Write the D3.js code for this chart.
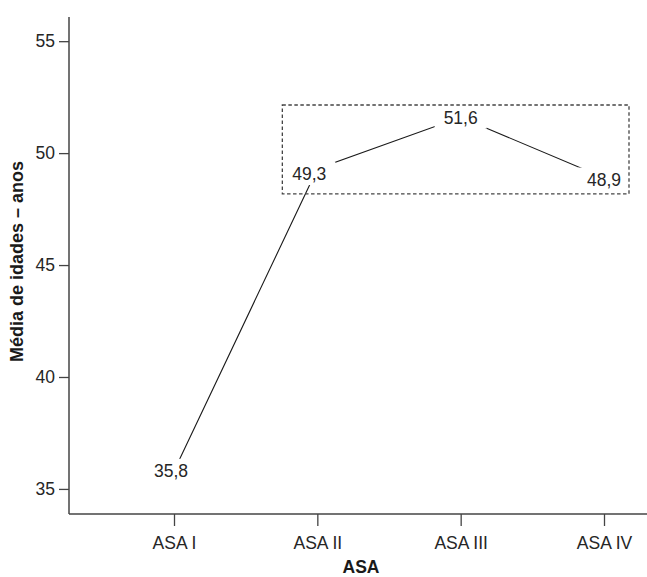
<!DOCTYPE html>
<html>
<head>
<meta charset="utf-8">
<script src="https://cdn.jsdelivr.net/npm/d3@7"></script>
<style>
  html, body { margin: 0; padding: 0; background: #fff; }
  svg { display: block; }
</style>
</head>
<body>
<svg id="chart" width="647" height="577"></svg>
<script>
// ---- data ----
const categories = ["ASA I", "ASA II", "ASA III", "ASA IV"];
const values = [35.8, 49.3, 51.6, 48.9];
const valueLabels = ["35,8", "49,3", "51,6", "48,9"];
const yTicks = [35, 40, 45, 50, 55];
const yTitle = "Média de idades – anos";
const xTitle = "ASA";
const highlighted = ["ASA II", "ASA III", "ASA IV"];

// ---- layout ----
const W = 647, H = 577;
const axisX = 69, axisY = 514, axisTop = 17, axisRight = 647;
const font = "'Liberation Sans', Arial, Helvetica, sans-serif";
const fs = 17.5;
const textColor = "#262626";
const axisColor = "#444";

const svg = d3.select("#chart");

const x = d3.scalePoint().domain(categories).range([174, 604]).padding(0);
const y = d3.scaleLinear().domain([33.88, 56.08]).range([axisY, axisTop]);

// Y axis
const yAxis = d3.axisLeft(y).tickValues(yTicks).tickSize(10).tickSizeOuter(0).tickPadding(4);
const gy = svg.append("g").attr("transform", `translate(${axisX},0)`).call(yAxis);
gy.select(".domain").remove();
gy.selectAll(".tick line").attr("stroke", axisColor).attr("stroke-width", 1.3);
gy.selectAll(".tick text").attr("font-family", font).attr("font-size", fs).attr("fill", textColor);

// X axis
const xAxis = d3.axisBottom(x).tickSize(12).tickSizeOuter(0).tickPadding(11);
const gx = svg.append("g").attr("transform", `translate(0,${axisY})`).call(xAxis);
gx.select(".domain").remove();
gx.selectAll(".tick line").attr("stroke", axisColor).attr("stroke-width", 1.3);
gx.selectAll(".tick text").attr("font-family", font).attr("font-size", fs).attr("fill", textColor);

// axis lines
svg.append("line").attr("x1", axisX).attr("x2", axisX).attr("y1", axisTop).attr("y2", axisY)
  .attr("stroke", axisColor).attr("stroke-width", 1.5);
svg.append("line").attr("x1", axisX).attr("x2", axisRight).attr("y1", axisY).attr("y2", axisY)
  .attr("stroke", axisColor).attr("stroke-width", 1.5);

// axis titles
svg.append("text")
  .attr("transform", `translate(23,${(axisTop + axisY) / 2 - 4}) rotate(-90)`)
  .attr("text-anchor", "middle")
  .attr("font-family", font).attr("font-weight", "bold").attr("font-size", 18)
  .attr("fill", "#1a1a1a")
  .text(yTitle);
svg.append("text")
  .attr("x", 361).attr("y", 573)
  .attr("text-anchor", "middle")
  .attr("font-family", font).attr("font-weight", "bold").attr("font-size", 17.5)
  .attr("fill", "#1a1a1a")
  .text(xTitle);

// data line
const pts = categories.map((c, i) => ({ c, v: values[i], label: valueLabels[i] }));
svg.append("path")
  .datum(pts)
  .attr("fill", "none")
  .attr("stroke", "#1a1a1a")
  .attr("stroke-width", 1.1)
  .attr("d", d3.line().x(d => x(d.c)).y(d => y(d.v)));

// labels with white backing
const labelOffsets = { "ASA I": [-3, 0], "ASA II": [-8, 5], "ASA III": [0, 0], "ASA IV": [0, 2] };
const lg = svg.append("g");
pts.forEach(d => {
  const [dx, dy] = labelOffsets[d.c];
  const g = lg.append("g");
  const t = g.append("text")
    .attr("x", x(d.c) + dx)
    .attr("y", y(d.v) + dy + 0.36 * fs)
    .attr("text-anchor", "middle")
    .attr("font-family", font).attr("font-size", fs)
    .attr("fill", textColor)
    .text(d.label);
  const b = t.node().getBBox();
  g.insert("rect", "text")
    .attr("x", b.x - 9).attr("y", b.y - 2.5)
    .attr("width", b.width + 18).attr("height", b.height + 3.5)
    .attr("fill", "#fff");
});

// dashed highlight box
const bx0 = x(highlighted[0]) - 35, bx1 = x(highlighted[highlighted.length - 1]) + 25;
const by0 = y(52.15), by1 = y(48.18);
svg.append("rect")
  .attr("x", bx0).attr("y", by0)
  .attr("width", bx1 - bx0).attr("height", by1 - by0)
  .attr("fill", "none")
  .attr("stroke", "#444")
  .attr("stroke-width", 1.3)
  .attr("stroke-dasharray", "3.5,2.5");
</script>
</body>
</html>
